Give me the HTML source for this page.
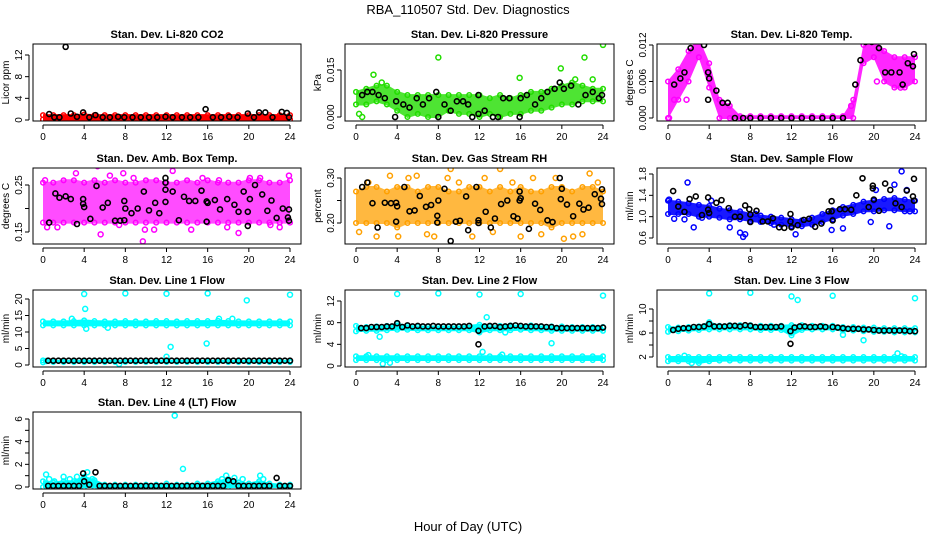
<!DOCTYPE html>
<html><head><meta charset="utf-8">
<style>
html,body{margin:0;padding:0;background:#fff;}
svg{display:block;font-family:"Liberation Sans",sans-serif;}
</style></head>
<body>
<svg id="chart" width="936" height="540" viewBox="0 0 936 540" xmlns="http://www.w3.org/2000/svg">
<rect x="0" y="0" width="936" height="540" fill="#fff"/>
<text x="468" y="14" text-anchor="middle" font-size="13">RBA_110507  Std. Dev. Diagnostics</text>
<text x="468" y="531" text-anchor="middle" font-size="13">Hour of Day (UTC)</text>
<g id="plots"></g>
</svg>
<script>
// ---------- data (hourly band limits 0..24, outliers & black points) ----------
const hours = [0,1,2,3,4,5,6,7,8,9,10,11,12,13,14,15,16,17,18,19,20,21,22,23,24];
const xTicks = [0,4,8,12,16,20,24];

const co2Lo = [0.1,0.1,0.1,0.1,0.1,0.1,0.1,0.1,0.1,0.1,0.1,0.1,0.1,0.1,0.1,0.1,0.1,0.1,0.1,0.1,0.1,0.1,0.1,0.1,0.1];
const co2Hi = [0.9,0.9,0.9,0.9,1.0,0.9,0.9,0.9,0.9,0.9,0.9,0.9,0.9,0.9,0.9,0.9,0.9,0.9,0.9,0.9,0.9,0.9,0.9,0.9,0.9];
const co2Out = [];
const co2Blk = [[0.6,1.1],[1.1,0.5],[1.6,0.5],[2.2,13.5],[2.7,1.2],[3.3,0.6],[3.9,1.4],[4.5,0.5],[5.1,0.9],[5.8,0.5],[6.5,0.5],[7.3,0.6],[7.9,0.5],[8.7,0.5],[9.5,0.5],[10.3,0.5],[11.1,0.5],[11.9,0.6],[12.6,0.5],[13.5,0.5],[14.3,0.5],[15.1,0.5],[15.8,2.0],[16.5,0.5],[17.3,0.5],[18.1,0.6],[18.9,0.5],[19.9,1.2],[20.5,0.5],[21.0,1.4],[21.6,1.4],[22.3,0.5],[23.2,1.5],[23.7,1.3],[23.9,0.5]];

const prLo = [0.004,0.004,0.005,0.004,0.002,0.000,0.001,0.000,0.000,0.002,0.001,0.001,0.000,0.001,0.000,0.001,0.001,0.002,0.002,0.003,0.004,0.004,0.005,0.005,0.005];
const prHi = [0.008,0.009,0.010,0.010,0.008,0.007,0.007,0.007,0.007,0.007,0.007,0.007,0.007,0.006,0.007,0.006,0.007,0.008,0.008,0.009,0.010,0.011,0.010,0.009,0.009];
const prOut = [[0.3,0.001],[0.6,0.000],[1.7,0.0135],[2.5,0.011],[8.0,0.019],[15.9,0.0125],[19.9,0.0155],[22.2,0.019],[24.0,0.023],[21.3,0.012],[23.0,0.012]];
const prBlk = [[0.6,0.007],[1.1,0.008],[1.6,0.008],[2.2,0.007],[2.8,0.006],[3.8,0.000],[3.9,0.005],[4.6,0.004],[5.2,0.003],[5.9,0.006],[6.5,0.004],[7.1,0.006],[7.8,0.008],[8.0,0.000],[8.6,0.004],[9.2,0.002],[9.8,0.005],[10.4,0.005],[10.9,0.004],[11.3,0.000],[11.9,0.001],[11.9,0.007],[12.5,0.002],[13.3,0.000],[13.8,0.000],[14.3,0.006],[14.9,0.006],[15.9,0.000],[16.0,0.006],[16.6,0.007],[17.4,0.004],[18.0,0.006],[18.6,0.008],[19.3,0.009],[19.8,0.011],[20.2,0.009],[20.9,0.010],[21.6,0.004],[22.3,0.007],[23.0,0.008],[23.6,0.006],[23.9,0.007]];

const tpLo = [0,0.003,0.006,0.010,0.005,0,0,0,0,0,0,0,0,0,0,0,0,0,0,0.009,0.010,0.006,0.005,0.005,0.006];
const tpHi = [0.006,0.008,0.011,0.013,0.009,0.003,0.002,0.0003,0.0003,0.0003,0.0003,0.0003,0.0003,0.0003,0.0003,0.0003,0.0003,0.0003,0.003,0.012,0.013,0.011,0.010,0.010,0.010];
const tpOut = [[0.1,0.0],[0.6,0.003],[1.8,0.003],[3.1,0.0135],[17.8,0.002],[20.3,0.006],[22.6,0.005]];
const tpBlk = [[0.6,0.0055],[1.2,0.0065],[1.6,0.0075],[2.2,0.0115],[2.9,0.013],[3.5,0.012],[3.9,0.003],[3.9,0.0075],[4.0,0.0065],[4.7,0.0045],[5.3,0.0025],[5.8,0.0025],[6.5,0],[7.3,0],[8.0,0],[9.0,0],[10.0,0],[11.0,0],[12.0,0],[13.0,0],[14.0,0],[15.0,0],[16.0,0],[17.0,0],[18.2,0.0055],[18.7,0.0095],[19.2,0.0125],[19.8,0.0125],[20.5,0.0115],[21.1,0.0075],[21.7,0.0075],[22.5,0.0075],[22.8,0.0055],[23.3,0.009],[23.8,0.0085],[23.9,0.0105]];

const amLo = [0.17,0.17,0.17,0.17,0.17,0.17,0.17,0.17,0.17,0.17,0.17,0.17,0.17,0.17,0.17,0.17,0.17,0.17,0.17,0.17,0.17,0.17,0.17,0.17,0.17];
const amHi = [0.255,0.255,0.26,0.26,0.255,0.26,0.255,0.26,0.255,0.255,0.26,0.26,0.255,0.255,0.26,0.255,0.26,0.255,0.255,0.255,0.26,0.26,0.255,0.255,0.26];
const amOut = [[0.2,0.26],[0.4,0.16],[1.4,0.16],[3.2,0.275],[5.3,0.29],[5.6,0.145],[6.5,0.27],[7.4,0.165],[7.8,0.275],[8.8,0.265],[9.7,0.13],[9.9,0.155],[10.8,0.155],[12.6,0.28],[14.4,0.155],[15.5,0.265],[17.1,0.26],[17.9,0.16],[19.0,0.148],[20.1,0.265],[21.1,0.265],[22.1,0.165],[23.0,0.16],[23.9,0.27]];
const amBlk = [[0.6,0.17],[1.2,0.232],[1.6,0.223],[2.2,0.226],[2.7,0.22],[3.3,0.167],[3.9,0.22],[3.9,0.21],[4.0,0.203],[4.6,0.178],[5.2,0.248],[5.8,0.202],[6.3,0.212],[7.0,0.174],[7.5,0.174],[7.9,0.175],[7.9,0.216],[8.0,0.2],[8.6,0.19],[9.2,0.2],[9.8,0.236],[10.3,0.196],[10.9,0.212],[11.3,0.19],[11.9,0.265],[11.9,0.255],[11.9,0.24],[11.9,0.214],[12.6,0.236],[13.2,0.175],[13.7,0.225],[14.2,0.216],[14.8,0.216],[15.4,0.238],[15.9,0.172],[15.9,0.215],[16.0,0.212],[16.7,0.218],[17.2,0.198],[17.9,0.22],[18.6,0.208],[19.0,0.193],[19.5,0.236],[19.9,0.193],[19.9,0.163],[20.1,0.22],[20.6,0.25],[21.3,0.23],[21.8,0.195],[22.2,0.217],[22.7,0.18],[23.3,0.2],[23.8,0.181],[23.9,0.174],[23.9,0.198]];

const rhLo = [0.20,0.20,0.20,0.20,0.19,0.20,0.20,0.20,0.20,0.20,0.20,0.20,0.20,0.20,0.20,0.20,0.20,0.20,0.20,0.19,0.20,0.20,0.20,0.20,0.20];
const rhHi = [0.27,0.28,0.28,0.27,0.28,0.28,0.27,0.28,0.28,0.27,0.27,0.28,0.28,0.27,0.28,0.27,0.28,0.27,0.27,0.28,0.28,0.27,0.28,0.28,0.27];
const rhOut = [[0.3,0.18],[1.2,0.29],[2.0,0.17],[3.3,0.305],[4.1,0.17],[5.1,0.3],[5.9,0.305],[6.9,0.175],[7.6,0.17],[8.9,0.3],[9.2,0.32],[10.0,0.29],[11.3,0.17],[12.5,0.3],[13.3,0.18],[14.0,0.32],[15.2,0.29],[16.0,0.17],[17.2,0.3],[18.0,0.175],[19.4,0.3],[20.2,0.165],[21.1,0.17],[22.0,0.175],[22.7,0.31],[23.5,0.29]];
const rhBlk = [[0.6,0.28],[1.1,0.29],[1.6,0.244],[2.1,0.19],[2.8,0.245],[3.4,0.244],[3.9,0.245],[3.9,0.203],[4.0,0.237],[4.7,0.28],[5.2,0.226],[5.7,0.228],[6.2,0.26],[6.8,0.236],[7.3,0.24],[7.9,0.216],[7.9,0.201],[8.0,0.25],[8.6,0.276],[9.2,0.16],[9.7,0.203],[10.1,0.205],[10.7,0.259],[10.9,0.184],[11.7,0.28],[11.9,0.206],[11.9,0.2],[12.6,0.225],[13.1,0.19],[13.5,0.21],[14.1,0.242],[14.7,0.25],[15.3,0.215],[15.7,0.21],[15.9,0.27],[15.9,0.25],[16.0,0.255],[16.8,0.187],[17.4,0.243],[17.9,0.229],[18.6,0.206],[19.1,0.202],[19.8,0.3],[19.9,0.253],[20.0,0.276],[20.5,0.241],[21.1,0.215],[21.7,0.243],[22.1,0.23],[22.6,0.234],[23.2,0.264],[23.8,0.254],[23.9,0.275],[23.9,0.242]];

const sfLo = [1.05,1.05,1.05,1.0,1.0,0.98,0.95,0.95,0.92,0.9,0.88,0.85,0.82,0.82,0.85,0.9,0.95,1.02,1.05,1.1,1.1,1.12,1.12,1.1,1.1];
const sfHi = [1.3,1.28,1.25,1.22,1.2,1.15,1.12,1.1,1.05,1.02,1.0,0.98,0.95,0.93,0.98,1.05,1.12,1.18,1.22,1.28,1.3,1.33,1.35,1.32,1.3];
const sfOut = [[0.1,1.32],[0.6,0.96],[1.6,0.95],[1.9,1.64],[2.5,0.8],[3.3,0.98],[4.2,1.3],[6.0,0.8],[7.0,0.7],[7.3,0.62],[7.5,0.67],[8.5,1.05],[10.3,0.85],[12.4,0.67],[15.9,0.75],[17.0,0.78],[19.7,0.9],[20.2,1.5],[21.5,0.82],[22.0,1.6],[22.7,1.85],[23.2,1.5],[23.5,1.1]];
const sfBlk = [[0.5,1.48],[1.0,1.19],[1.6,1.09],[2.1,1.33],[2.7,1.38],[3.3,1.03],[3.9,1.36],[3.9,1.13],[4.0,1.07],[4.7,1.26],[5.2,1.31],[5.9,1.16],[6.5,1.0],[7.0,1.0],[7.5,1.21],[7.9,1.14],[8.0,1.04],[8.0,0.9],[8.6,1.11],[9.2,0.91],[9.7,0.91],[10.2,0.97],[10.8,0.8],[11.3,0.79],[11.9,1.05],[11.9,0.91],[12.0,0.8],[12.6,0.84],[13.2,0.94],[13.7,0.96],[14.3,0.81],[14.9,0.87],[15.6,1.1],[15.9,1.29],[15.9,1.1],[16.0,0.93],[16.7,1.14],[17.2,1.14],[17.8,1.13],[18.3,1.4],[18.9,1.72],[19.5,1.18],[19.9,1.58],[19.9,1.53],[20.0,1.32],[20.5,1.11],[21.1,1.62],[21.6,1.5],[22.1,1.25],[22.7,1.18],[23.2,1.49],[23.8,1.38],[23.9,1.3],[23.9,1.71]];

const l1Lo = [12.0,12.0,12.0,12.0,12.0,12.0,12.0,12.0,12.0,12.0,12.0,12.0,12.0,12.0,12.0,12.0,12.0,12.0,12.0,12.0,12.0,12.0,12.0,12.0,12.0];
const l1Hi = [13.2,13.2,13.2,13.3,13.5,13.3,13.2,13.2,13.3,13.2,13.2,13.3,13.3,13.2,13.3,13.3,13.3,13.4,13.3,13.2,13.2,13.2,13.2,13.2,13.2];
const l1Lo2 = [0.8,0.9,0.9,0.9,0.9,0.9,0.9,0.9,0.9,0.9,0.9,0.9,0.9,0.9,0.9,0.9,0.9,0.9,0.9,0.9,0.9,0.9,0.9,0.9,0.9];
const l1Hi2 = [1.4,1.3,1.3,1.3,1.3,1.3,1.3,1.3,1.3,1.3,1.3,1.3,1.3,1.3,1.3,1.3,1.3,1.3,1.3,1.3,1.3,1.3,1.3,1.3,1.3];
const l1Out = [[4.0,21.5],[8.0,21.7],[12.0,21.6],[16.0,21.7],[19.8,19.6],[24.0,21.3],[4.1,17.0],[4.2,11.0],[12.0,2.5],[12.4,5.5],[15.9,6.5],[2.8,14.0],[6.3,11.3],[7.4,0.3],[17.1,14.0],[18.4,14.0],[0.3,1.2]];
const l1Blk = [[0.5,1.3],[1.0,1.3],[1.5,1.3],[2.0,1.3],[2.5,1.3],[3.0,1.3],[3.5,1.3],[4.0,1.3],[4.5,1.3],[5.0,1.3],[5.5,1.3],[6.0,1.3],[6.5,1.3],[7.0,1.3],[7.5,1.3],[8.0,1.3],[8.5,1.3],[9.0,1.3],[9.5,1.3],[10.0,1.3],[10.5,1.3],[11.0,1.3],[11.5,1.3],[12.0,1.3],[12.5,1.3],[13.0,1.3],[13.5,1.3],[14.0,1.3],[14.5,1.3],[15.0,1.3],[15.5,1.3],[16.0,1.3],[16.5,1.3],[17.0,1.3],[17.5,1.3],[18.0,1.3],[18.5,1.3],[19.0,1.3],[19.5,1.3],[20.0,1.3],[20.5,1.3],[21.0,1.3],[21.5,1.3],[22.0,1.3],[22.5,1.3],[23.0,1.3],[23.5,1.3],[24.0,1.3]];

const l2Lo = [1.1,1.1,1.1,1.1,1.1,1.1,1.1,1.1,1.1,1.1,1.1,1.1,1.1,1.1,1.1,1.1,1.1,1.1,1.1,1.1,1.1,1.1,1.1,1.1,1.1];
const l2Hi = [1.8,1.8,1.8,1.8,1.8,1.8,1.8,1.8,1.8,1.8,1.8,1.8,1.8,1.8,1.8,1.8,1.8,1.8,1.8,1.8,1.8,1.8,1.8,1.8,1.8];
const l2Lo2 = [6.4,6.5,6.5,6.6,6.7,6.7,6.6,6.6,6.6,6.6,6.6,6.6,6.2,6.6,6.6,6.6,6.7,6.6,6.6,6.5,6.5,6.5,6.5,6.5,6.5];
const l2Hi2 = [7.4,7.2,7.3,7.4,7.8,7.4,7.3,7.3,7.3,7.3,7.3,7.4,7.6,7.3,7.4,7.5,7.4,7.5,7.3,7.3,7.3,7.2,7.2,7.2,7.2];
const l2Out = [[4.0,13.3],[8.0,13.4],[12.0,13.2],[16.0,13.3],[24.0,13.0],[2.3,5.4],[12.7,9.0],[12.3,2.6],[14.2,2.1],[19.0,4.2],[2.6,0.4],[3.3,0.6],[1.2,2.0],[14.5,6.2]];
const l2Blk = [[0.5,7.0],[1.0,7.0],[1.5,7.2],[2.0,7.2],[2.5,7.2],[3.0,7.3],[3.5,7.3],[4.0,7.9],[4.5,7.2],[5.0,7.5],[5.5,7.3],[6.0,7.4],[6.5,7.3],[7.0,7.3],[7.5,7.4],[8.0,7.3],[8.5,7.3],[9.0,7.3],[9.5,7.3],[10.0,7.3],[10.5,7.3],[11.0,7.4],[11.9,6.5],[11.9,4.0],[12.5,7.3],[13.0,7.4],[13.5,7.4],[14.0,7.2],[14.5,7.3],[15.0,7.4],[15.5,7.5],[16.0,7.4],[16.5,7.3],[17.0,7.3],[17.5,7.3],[18.0,7.3],[18.5,7.2],[19.0,7.2],[19.5,7.0],[20.0,7.0],[20.5,7.0],[21.0,7.0],[21.5,7.0],[22.0,7.0],[22.5,7.0],[23.0,7.0],[23.5,7.0],[24.0,7.1]];

const l3Lo = [1.3,1.3,1.3,1.0,1.3,1.4,1.4,1.4,1.4,1.4,1.4,1.4,1.4,1.4,1.4,1.4,1.4,1.4,1.4,1.4,1.4,1.4,1.4,1.4,1.4];
const l3Hi = [2.0,2.0,2.0,2.0,2.0,2.0,2.0,2.0,2.0,2.0,2.0,2.0,2.0,2.0,2.0,2.0,2.0,2.0,2.0,2.0,2.0,2.0,2.0,2.0,2.0];
const l3Lo2 = [6.2,6.3,6.4,6.5,6.6,6.6,6.6,6.6,6.6,6.5,6.5,6.5,5.6,6.5,6.6,6.6,6.6,6.4,6.4,6.3,6.2,6.2,6.1,6.1,6.1];
const l3Hi2 = [7.0,6.9,7.0,7.1,7.8,7.2,7.3,7.3,7.3,7.2,7.2,7.2,7.3,7.3,7.2,7.2,7.2,7.0,7.0,6.9,6.9,6.8,6.8,6.8,6.8];
const l3Out = [[4.0,12.6],[8.0,12.7],[12.0,12.1],[12.6,11.5],[16.0,12.2],[24.0,11.8],[17.0,5.7],[19.0,4.8],[22.3,2.6],[22.7,2.1],[1.6,2.2],[2.3,1.0]];
const l3Blk = [[0.5,6.5],[1.0,6.7],[1.5,6.8],[2.0,6.8],[2.5,7.0],[3.0,7.0],[3.5,7.1],[4.0,7.5],[4.5,7.1],[5.0,7.1],[5.5,7.1],[6.0,7.2],[6.5,7.2],[7.0,7.1],[7.5,7.3],[8.0,7.2],[8.5,7.0],[9.0,7.0],[9.5,7.0],[10.0,7.0],[10.5,7.0],[11.0,7.1],[11.9,6.3],[11.9,4.2],[12.3,6.9],[12.8,7.1],[13.3,7.1],[13.8,7.0],[14.3,7.0],[14.8,7.1],[15.3,7.0],[16.0,7.0],[16.5,6.9],[17.0,6.8],[17.5,6.7],[18.0,6.7],[18.5,6.7],[19.0,6.6],[19.5,6.6],[20.0,6.5],[20.5,6.4],[21.0,6.4],[21.5,6.4],[22.0,6.4],[22.5,6.4],[23.0,6.4],[23.5,6.3],[24.0,6.3]];

const l4Lo = [0,0,0,0,0,0,0,0,0,0,0,0,0,0,0,0,0,0,0,0,0,0,0,0,0];
const l4Hi = [0.5,0.4,0.5,0.5,0.9,0.6,0.2,0.2,0.2,0.2,0.2,0.2,0.3,0.2,0.2,0.3,0.3,0.5,0.7,0.4,0.3,0.5,0.3,0.2,0.2];
const l4Out = [[0.3,1.1],[0.6,0.7],[1.1,0.5],[2.0,0.9],[2.6,0.7],[3.3,0.9],[4.3,1.3],[4.8,0.7],[12.8,6.3],[13.6,1.6],[17.4,0.7],[17.8,1.0],[18.6,0.8],[19.4,0.7],[21.1,1.0],[21.4,0.7]];
const l4Blk = [[0.5,0.1],[1.0,0.1],[1.5,0.1],[2.0,0.1],[2.5,0.1],[3.0,0.1],[3.5,0.1],[3.9,1.2],[4.0,0.5],[4.5,0.2],[5.1,1.3],[5.5,0.1],[6.0,0.1],[6.5,0.1],[7.0,0.1],[7.5,0.1],[8.0,0.1],[8.5,0.1],[9.0,0.1],[9.5,0.1],[10.0,0.1],[10.5,0.1],[11.0,0.1],[11.5,0.1],[12.0,0.1],[12.5,0.1],[13.0,0.1],[13.5,0.1],[14.0,0.1],[14.5,0.1],[15.0,0.1],[15.5,0.1],[16.0,0.1],[16.5,0.1],[17.0,0.1],[17.5,0.1],[18.0,0.6],[18.5,0.5],[19.0,0.1],[19.5,0.1],[20.0,0.1],[20.5,0.1],[21.0,0.1],[21.5,0.1],[22.0,0.1],[22.7,0.8],[23.0,0.1],[23.5,0.1],[24.0,0.1]];

const co2Ticks = [0,4,8,12];       const co2TickLabels = ["0","4","8","12"];
const prTicks = [0,0.015];          const prTickLabels = ["0.000","0.015"];
const tpTicks = [0,0.006,0.012];    const tpTickLabels = ["0.000","0.006","0.012"];
const amTicks = [0.15,0.20,0.25];   const amTickLabels = ["0.15","","0.25"];
const rhTicks = [0.20,0.25,0.30];   const rhTickLabels = ["0.20","","0.30"];
const sfTicks = [0.6,1.0,1.4,1.8];  const sfTickLabels = ["0.6","1.0","1.4","1.8"];
const l1Ticks = [0,5,10,15,20];     const l1TickLabels = ["0","5","10","15","20"];
const l2Ticks = [0,4,8,12];         const l2TickLabels = ["0","4","8","12"];
const l3Ticks = [2,4,6,8,10];       const l3TickLabels = ["2","","6","","10"];
const l4Ticks = [0,1,2,3,4,5,6];    const l4TickLabels = ["0","","2","","4","","6"];

// ---------- rendering ----------
const NS = "http://www.w3.org/2000/svg";
const root = document.getElementById('plots');
const colX = [[33,301,43,290],[345,614,356,603],[657,926,668,915]];
const rowY = [[44,121],[168,244],[290,367],[412,489]];

function mk(tag, attrs, parent){
  const e = document.createElementNS(NS, tag);
  for (const k in attrs) e.setAttribute(k, attrs[k]);
  (parent||root).appendChild(e);
  return e;
}

const panels = [
  {id:'co2', title:'Stan. Dev. Li-820 CO2', ylab:'Licor ppm', col:0,row:0, v:[0,12], p:[120,55], ticks:co2Ticks, labs:co2TickLabels, color:'#ff0000', op:1, bands:[[co2Lo,co2Hi]], out:co2Out, blk:co2Blk},
  {id:'pressure', title:'Stan. Dev. Li-820 Pressure', ylab:'kPa', col:1,row:0, v:[0,0.015], p:[117,70], ticks:prTicks, labs:prTickLabels, color:'#22dd00', op:0.8, bands:[[prLo,prHi]], out:prOut, blk:prBlk},
  {id:'temp', title:'Stan. Dev. Li-820 Temp.', ylab:'degrees C', col:2,row:0, v:[0,0.012], p:[118,45], ticks:tpTicks, labs:tpTickLabels, color:'#ff00ff', op:0.85, bands:[[tpLo,tpHi]], out:tpOut, blk:tpBlk},
  {id:'ambbox', title:'Stan. Dev. Amb. Box Temp.', ylab:'degrees C', col:0,row:1, v:[0.15,0.25], p:[232,185], ticks:amTicks, labs:amTickLabels, color:'#ff00ff', op:0.7, bands:[[amLo,amHi]], out:amOut, blk:amBlk},
  {id:'rh', title:'Stan. Dev. Gas Stream RH', ylab:'percent', col:1,row:1, v:[0.20,0.30], p:[223,178], ticks:rhTicks, labs:rhTickLabels, color:'#ffa000', op:0.75, bands:[[rhLo,rhHi]], out:rhOut, blk:rhBlk},
  {id:'sampleflow', title:'Stan. Dev. Sample Flow', ylab:'ml/min', col:2,row:1, v:[0.6,1.8], p:[238,174], ticks:sfTicks, labs:sfTickLabels, color:'#0000ff', op:0.9, bands:[[sfLo,sfHi]], out:sfOut, blk:sfBlk},
  {id:'line1', title:'Stan. Dev. Line 1 Flow', ylab:'ml/min', col:0,row:2, v:[0,20], p:[365,299], ticks:l1Ticks, labs:l1TickLabels, color:'#00ffff', op:1, bands:[[l1Lo,l1Hi],[l1Lo2,l1Hi2]], out:l1Out, blk:l1Blk},
  {id:'line2', title:'Stan. Dev. Line 2 Flow', ylab:'ml/min', col:1,row:2, v:[0,12], p:[366,301], ticks:l2Ticks, labs:l2TickLabels, color:'#00ffff', op:1, bands:[[l2Lo,l2Hi],[l2Lo2,l2Hi2]], out:l2Out, blk:l2Blk},
  {id:'line3', title:'Stan. Dev. Line 3 Flow', ylab:'ml/min', col:2,row:2, v:[2,10], p:[357,309], ticks:l3Ticks, labs:l3TickLabels, color:'#00ffff', op:1, bands:[[l3Lo,l3Hi],[l3Lo2,l3Hi2]], out:l3Out, blk:l3Blk},
  {id:'line4', title:'Stan. Dev. Line 4 (LT) Flow', ylab:'ml/min', col:0,row:3, v:[0,6], p:[487,419], ticks:l4Ticks, labs:l4TickLabels, color:'#00ffff', op:1, bands:[[l4Lo,l4Hi]], out:l4Out, blk:l4Blk}
];

panels.forEach(P=>{
  const [bx0,bx1,x0p,x24p] = colX[P.col];
  const [by0,by1] = rowY[P.row];
  const xs = h => x0p + (x24p-x0p)*h/24;
  const ys = v => P.p[0] + (P.p[1]-P.p[0])*(v-P.v[0])/(P.v[1]-P.v[0]);
  const g = mk('g',{});
  
  
  const clipId = 'clip-'+P.id;
  const cp = mk('clipPath',{id:clipId}, g);
  mk('rect',{x:bx0,y:by0,width:bx1-bx0,height:by1-by0}, cp);
  const t = mk('text',{x:(bx0+bx1)/2,y:by0-6,'text-anchor':'middle','font-size':'11','font-weight':'bold'}, g);
  t.textContent = P.title;
  
  
  const marks = mk('g',{'clip-path':'url(#'+clipId+')'}, g);
  
  
  P.bands.forEach(([lo,hi])=>{
    let d = '';
    hours.forEach((h,i)=>{ d += (i?'L':'M')+xs(h).toFixed(1)+' '+(ys(hi[i])-1).toFixed(1); });
    for (let i=hours.length-1;i>=0;i--) d += 'L'+xs(hours[i]).toFixed(1)+' '+(ys(lo[i])+1).toFixed(1);
    d += 'Z';
    const b = mk('path',{d:d,fill:P.color,'fill-opacity':P.op,stroke:'none'}, marks);
    
    
    hours.forEach((h,i)=>{
      [lo[i],hi[i]].forEach(v=>{
        const c = mk('circle',{cx:xs(h),cy:ys(v),r:2.3,fill:'none',stroke:P.color,'stroke-width':'1.5'}, marks);
        
        
      });
    });
  });
  P.out.forEach(([h,v])=>{
    const c = mk('circle',{cx:xs(h),cy:ys(v),r:2.5,fill:'none',stroke:P.color,'stroke-width':'1.5'}, marks);
    
    
  });
  P.blk.forEach(([h,v])=>{
    const c = mk('circle',{cx:xs(h),cy:ys(v),r:2.5,fill:'none',stroke:'#000','stroke-width':'1.6'}, marks);
    
    
  });
  const bx = mk('rect',{x:bx0,y:by0,width:bx1-bx0,height:by1-by0,fill:'none',stroke:'#000','stroke-width':'1'}, g);
  
  
  const xa = mk('g',{}, g);
  
  
  mk('line',{x1:xs(0),x2:xs(24),y1:by1+4,y2:by1+4,stroke:'#000'}, xa);
  xTicks.forEach(h=>{
    mk('line',{x1:xs(h),x2:xs(h),y1:by1+4,y2:by1+8,stroke:'#000'}, xa);
    const tl = mk('text',{x:xs(h),y:by1+19,'text-anchor':'middle','font-size':'10'}, xa);
    tl.textContent = String(h);
  });
  const ya = mk('g',{}, g);
  
  
  const yt0 = ys(P.ticks[0]), yt1 = ys(P.ticks[P.ticks.length-1]);
  mk('line',{x1:bx0-4,x2:bx0-4,y1:yt0,y2:yt1,stroke:'#000'}, ya);
  P.ticks.forEach((v,i)=>{
    const y = ys(v);
    mk('line',{x1:bx0-8,x2:bx0-4,y1:y,y2:y,stroke:'#000'}, ya);
    if (P.labs[i]) {
      const tl = mk('text',{x:bx0-11,y:y,'text-anchor':'middle','font-size':'10',transform:'rotate(-90 '+(bx0-11)+' '+y+')'}, ya);
      tl.textContent = P.labs[i];
    }
  });
  const yl = mk('text',{x:bx0-24,y:(by0+by1)/2,'text-anchor':'middle','font-size':'10',transform:'rotate(-90 '+(bx0-24)+' '+((by0+by1)/2)+')'}, g);
  yl.textContent = P.ylab;
  
  
});
</script>
</body></html>
